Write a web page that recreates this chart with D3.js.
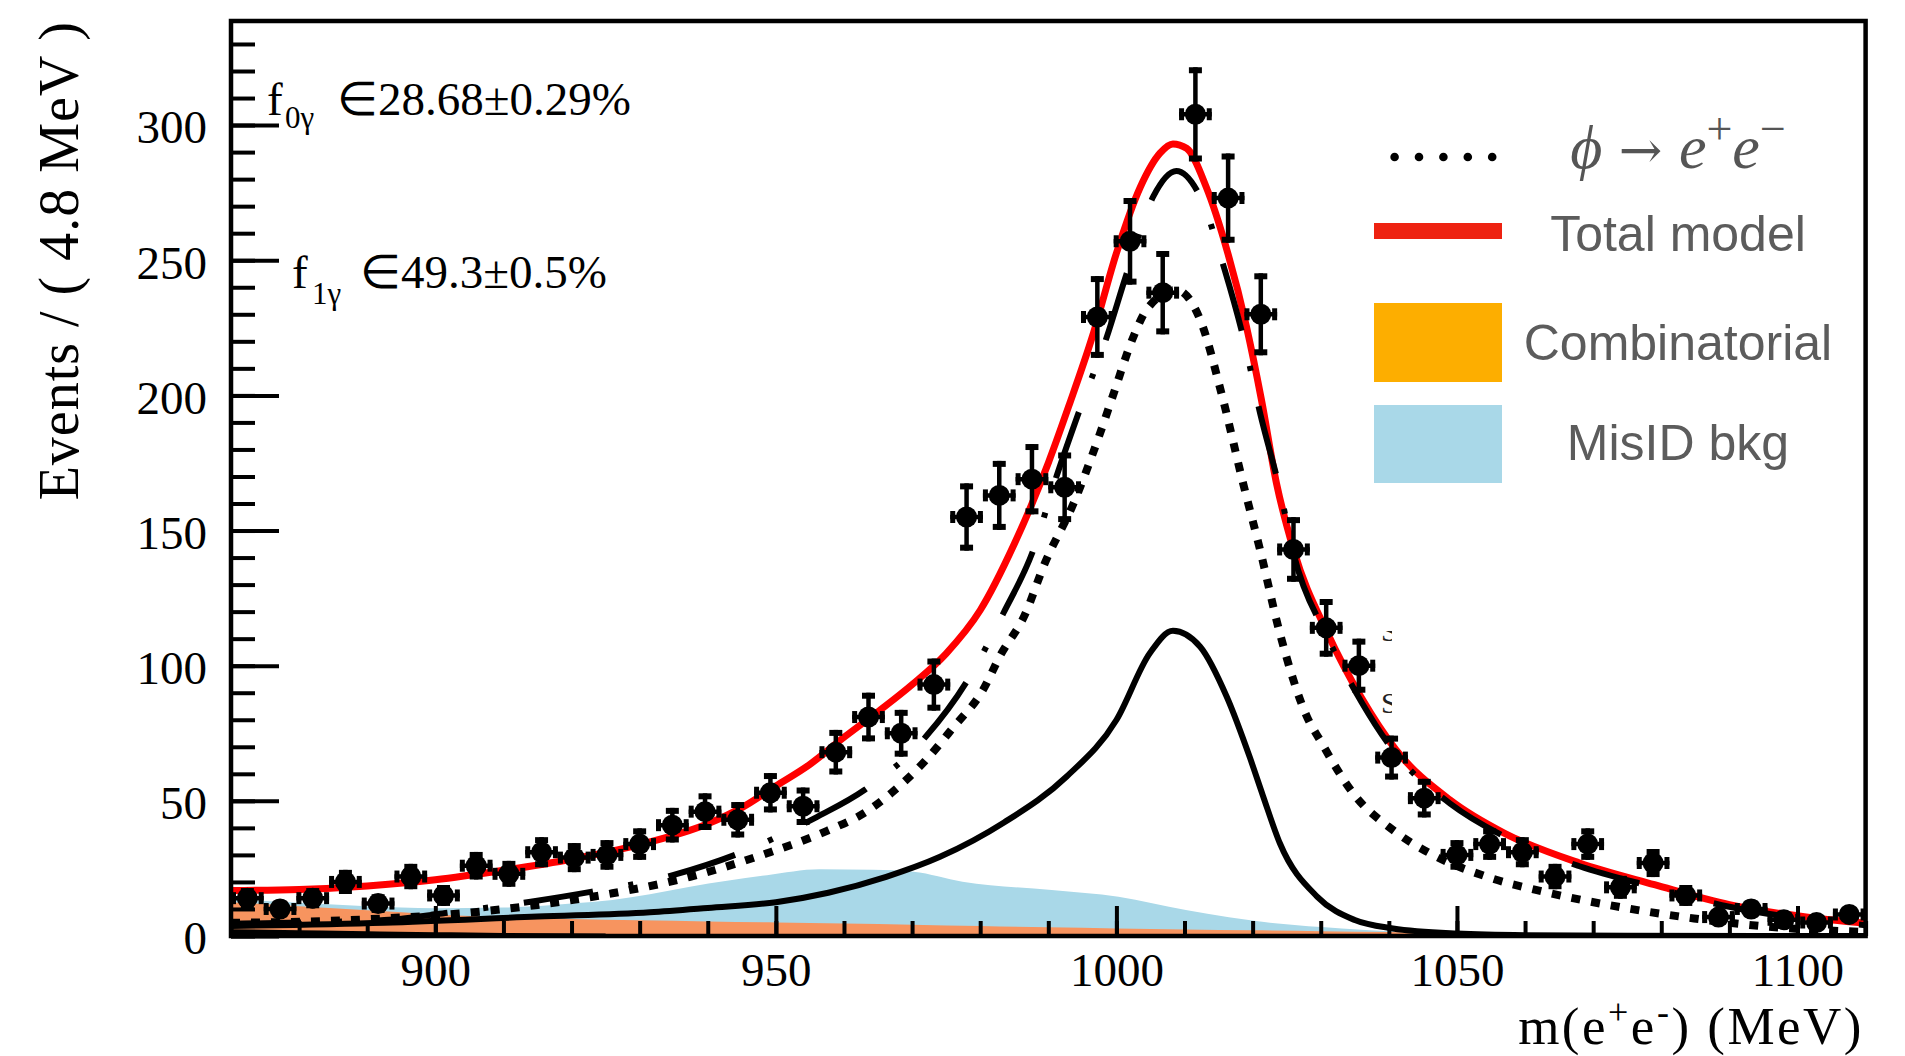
<!DOCTYPE html>
<html>
<head>
<meta charset="utf-8">
<script src="https://cdn.jsdelivr.net/npm/d3@7"></script>
<style>
  html, body { margin: 0; padding: 0; background: #fff; }
  svg { display: block; }
  .serif { font-family: "Liberation Serif", "Times New Roman", serif; }
  .sans { font-family: "Liberation Sans", Arial, sans-serif; }
</style>
</head>
<body>
<svg id="chart" width="1905" height="1056"></svg>
<script>
// ---------- data ----------//

// histogram: 50 bins of 4.8 MeV between 870 and 1110
var binCenters = [872.4, 877.2, 882.0, 886.8, 891.6, 896.4, 901.2, 906.0, 910.8, 915.6,
                  920.4, 925.2, 930.0, 934.8, 939.6, 944.4, 949.2, 954.0, 958.8, 963.6,
                  968.4, 973.2, 978.0, 982.8, 987.6, 992.4, 997.2, 1002.0, 1006.8, 1011.6,
                  1016.4, 1021.2, 1026.0, 1030.8, 1035.6, 1040.4, 1045.2, 1050.0, 1054.8, 1059.6,
                  1064.4, 1069.2, 1074.0, 1078.8, 1083.6, 1088.4, 1093.2, 1098.0, 1102.8, 1107.6];
var counts = [14, 10, 14, 20, 12, 22, 15, 26, 23, 31,
              29, 30, 34, 41, 46, 43, 53, 48, 68, 81,
              75, 93, 155, 163, 169, 166, 229, 257, 238, 304,
              273, 230, 143, 114, 100, 66, 51, 30, 34, 31,
              22, 34, 18, 27, 15, 7, 10, 6, 5, 8];
var halfBin = 2.4;

// fit curves, [mass, events]
var totalModel = [[870,16.8],[880,17.2],[890,18.5],[900,20.8],[910,24.3],[920,28.4],[930,33.8],
  [940,41.5],[945,47.5],[950,55.5],[955,63.5],[960,73.5],[965,83],[970,93],[975,104.5],[980,120.5],
  [985,145],[990,175],[993,196],[996.5,222],[1000,252.6],[1003.5,277],[1006.4,289.6],[1008.3,293],
  [1010.3,291.4],[1013.2,277],[1016.2,254],[1019.1,225.4],[1021.3,198.3],[1023.5,167.5],[1026,143],
  [1031,112],[1036,88],[1041,69],[1049,50.3],[1057,38],[1068,27],[1079,19],[1090,11.6],[1101,7.1],[1110,4.7]];

var signalSum = [[870,4.5],[880,5],[892.5,5.9],[903,9],[914,12.7],[923,16.4],[935,22.6],[944,30],
  [956,44],[963,54],[972,73.7],[978,94],[983.4,119.4],[987.8,142.8],[991.2,170],[994.6,194.6],
  [998.6,221.7],[1001.5,245],[1005.4,273.5],[1008.8,283],[1012.3,273.5],[1015.9,246.4],[1018.6,221.7],
  [1021.1,193.4],[1024,165],[1026,141.5],[1031,110.5],[1036,86.5],[1041,67.5],[1049,49],[1057,36.8],
  [1068,25.8],[1079,18],[1090,10.8],[1101,6.3],[1110,4]];

var phiToEE = [[870,4.9],[881,5.3],[892.5,6.5],[904,8.4],[915,11.5],[926,15.8],[937.4,21.9],
  [948.7,30.6],[957.6,39],[963.3,46],[967,53],[972,65],[976,77],[980.4,91],[983,104],[986.5,118.5],
  [989.5,138],[993.7,160],[997.6,186],[999.5,200],[1002.5,221.7],[1004.4,231.6],[1008.8,239],
  [1012.3,228],[1015.4,201],[1018.6,167.5],[1021.1,142.8],[1024,112],[1028,81],[1030,72],[1035,52],
  [1040.6,39.2],[1046,30.6],[1054.4,21.9],[1062.7,16.4],[1073.7,10.8],[1084.8,6.5],[1095.8,3.4],[1110,1.5]];

var peakComponent = [[870,3.7],[892.5,4.9],[915,7.2],[931.5,8.8],[940,10.4],[950,12.5],[957.7,16],
  [966.2,21.9],[974.1,29.3],[983.5,42],[992.7,59],[1000,79.9],[1004.9,104.6],[1008.3,112.9],
  [1012.3,107],[1016.2,88.5],[1019.6,66],[1021.5,52],[1024,34.3],[1029.5,14.5],[1035,5.9],
  [1040.6,2.8],[1050,0.9],[1060,0.3],[1075,0.1],[1110,0]];

var lowTail = [[870,1.6],[880,1.2],[890,0.8],[900,0.5],[910,0.2],[925,0]];

var misidBkg = [[870,13.5],[880,12.3],[890,11],[900,10.3],[910,10.5],[920,12],[926,13.3],[931.5,15.4],
  [937.4,18.2],[948.7,22.5],[956.4,24.7],[964.3,24.5],[970.2,23.8],[977.4,20.1],[990.5,17],[1000.3,14.5],
  [1010.2,9.6],[1023.3,4.7],[1033.1,2.8],[1040,1.8],[1050,1.1],[1060,0.8],[1080,0.5],[1110,0.4]];

var combinatorial = [[870,12.5],[880,11],[890,9.5],[900,8],[910,7],[920,6.3],[930,5.8],[940,5.4],
  [950,5],[960,4.6],[970,4.2],[980,3.7],[990,3.2],[1000,2.8],[1010,2.4],[1020,2.1],[1030,1.8],
  [1040,1.5],[1050,1.2],[1060,1],[1080,0.8],[1110,0.6]];

var xMajorTicks = [900, 950, 1000, 1050, 1100];
var yMajorTicks = [0, 50, 100, 150, 200, 250, 300];

// ---------- layout ----------//
var W = 1905, H = 1056;
var frame = {left: 231, right: 1865.6, top: 21, bottom: 936};

var x = d3.scaleLinear().domain([870, 1110]).range([frame.left, frame.right]);
var y = d3.scaleLinear().domain([0, 338.5]).range([frame.bottom, frame.top]);

var svg = d3.select("#chart");
svg.append("rect").attr("width", W).attr("height", H).attr("fill", "#fff");

var defs = svg.append("defs");
defs.append("clipPath").attr("id", "plotclip").append("rect")
    .attr("x", frame.left).attr("y", frame.top)
    .attr("width", frame.right - frame.left).attr("height", frame.bottom - frame.top);

var plot = svg.append("g").attr("clip-path", "url(#plotclip)");

var area = d3.area()
    .x(function(d) { return x(d[0]); })
    .y0(y(0))
    .y1(function(d) { return y(d[1]); })
    .curve(d3.curveMonotoneX);

var line = d3.line()
    .x(function(d) { return x(d[0]); })
    .y(function(d) { return y(d[1]); })
    .curve(d3.curveMonotoneX);

// filled backgrounds
plot.append("path").datum(misidBkg).attr("d", area).attr("fill", "#a9d8e8");
plot.append("path").datum(combinatorial).attr("d", area).attr("fill", "#f7945f");

// curves
plot.append("path").datum(lowTail).attr("d", line)
    .attr("fill", "none").attr("stroke", "#000").attr("stroke-width", 5);
plot.append("path").datum(peakComponent).attr("d", line)
    .attr("fill", "none").attr("stroke", "#000").attr("stroke-width", 6);
plot.append("path").datum(phiToEE).attr("d", line)
    .attr("fill", "none").attr("stroke", "#000").attr("stroke-width", 8)
    .attr("stroke-dasharray", "9,11");
plot.append("path").datum(totalModel).attr("d", line)
    .attr("fill", "none").attr("stroke", "#ff0000").attr("stroke-width", 7);
plot.append("path").datum(signalSum).attr("d", line)
    .attr("fill", "none").attr("stroke", "#000").attr("stroke-width", 6)
    .attr("stroke-dasharray", "70,36,5,36");

// data points with errors
var pts = plot.selectAll("g.pt")
    .data(d3.zip(binCenters, counts))
    .join("g")
    .attr("class", "pt")
    .attr("stroke", "#000");

pts.append("line") // x error
    .attr("x1", function(d) { return x(d[0] - halfBin); })
    .attr("x2", function(d) { return x(d[0] + halfBin); })
    .attr("y1", function(d) { return y(d[1]); })
    .attr("y2", function(d) { return y(d[1]); })
    .attr("stroke-width", 4.5);
[-1, 1].forEach(function(s) {
  pts.append("line")
      .attr("x1", function(d) { return x(d[0] + s * halfBin) - s * 2.5; })
      .attr("x2", function(d) { return x(d[0] + s * halfBin) - s * 2.5; })
      .attr("y1", function(d) { return y(d[1]) - 6; })
      .attr("y2", function(d) { return y(d[1]) + 6; })
      .attr("stroke-width", 5);
});
pts.append("line") // y error, sqrt(N)
    .attr("x1", function(d) { return x(d[0]); })
    .attr("x2", function(d) { return x(d[0]); })
    .attr("y1", function(d) { return y(d[1] - Math.sqrt(d[1])); })
    .attr("y2", function(d) { return y(d[1] + Math.sqrt(d[1])); })
    .attr("stroke-width", 4.5);
[-1, 1].forEach(function(s) {
  pts.append("line")
      .attr("x1", function(d) { return x(d[0]) - 6.5; })
      .attr("x2", function(d) { return x(d[0]) + 6.5; })
      .attr("y1", function(d) { return y(d[1] + s * Math.sqrt(d[1])) + s * 3; })
      .attr("y2", function(d) { return y(d[1] + s * Math.sqrt(d[1])) + s * 3; })
      .attr("stroke-width", 6);
});
pts.append("circle")
    .attr("cx", function(d) { return x(d[0]); })
    .attr("cy", function(d) { return y(d[1]); })
    .attr("r", 10.5)
    .attr("fill", "#000")
    .attr("stroke", "none");

// ---------- axes ----------//
function styleAxis(g) {
  g.select(".domain").remove();
  g.selectAll(".tick line").attr("stroke", "#000").attr("stroke-width", 4);
  g.selectAll(".tick text").attr("class", "serif").attr("fill", "#000").style("font-size", "47px");
}

svg.append("g")
    .attr("transform", "translate(" + frame.left + ",0)")
    .call(d3.axisLeft(y).tickValues(d3.range(0, 331, 10)).tickSize(-24).tickFormat(""))
    .call(styleAxis);
svg.append("g")
    .attr("transform", "translate(" + frame.left + ",0)")
    .call(d3.axisLeft(y).tickValues(yMajorTicks).tickSize(-48).tickPadding(24).tickFormat(d3.format("d")))
    .call(styleAxis)
    .selectAll(".tick text").attr("dy", "0.38em");

svg.append("g")
    .attr("transform", "translate(0," + frame.bottom + ")")
    .call(d3.axisBottom(x).tickValues(d3.range(870, 1111, 10)).tickSize(-15).tickFormat(""))
    .call(styleAxis);
svg.append("g")
    .attr("transform", "translate(0," + frame.bottom + ")")
    .call(d3.axisBottom(x).tickValues(xMajorTicks).tickSize(-30).tickPadding(17).tickFormat(d3.format("d")))
    .call(styleAxis);

// frame
svg.append("rect")
    .attr("x", frame.left).attr("y", frame.top)
    .attr("width", frame.right - frame.left).attr("height", frame.bottom - frame.top)
    .attr("fill", "none").attr("stroke", "#000").attr("stroke-width", 4.5);

// axis titles
svg.append("text")
    .attr("class", "serif")
    .attr("transform", "translate(78," + frame.top + ") rotate(-90)")
    .attr("text-anchor", "end")
    .style("font-size", "56px")
    .style("letter-spacing", "1px")
    .text("Events / ( 4.8 MeV )");

var xt = svg.append("text")
    .attr("class", "serif")
    .attr("x", 1864).attr("y", 1044)
    .attr("text-anchor", "end")
    .style("font-size", "53px")
    .style("letter-spacing", "2.5px");
xt.append("tspan").text("m(e");
xt.append("tspan").attr("dy", -20).style("font-size", "36px").text("+");
xt.append("tspan").attr("dy", 20).text("e");
xt.append("tspan").attr("dy", -20).style("font-size", "36px").text("-");
xt.append("tspan").attr("dy", 20).text(") (MeV)");

// fractions
var f0 = svg.append("text").attr("class", "serif").style("font-size", "47px");
f0.append("tspan").attr("x", 267).attr("y", 115).text("f");
f0.append("tspan").attr("x", 285).attr("y", 128).style("font-size", "31px").text("0γ");
f0.append("tspan").attr("x", 337).attr("y", 115).text("∈28.68±0.29%");

var f1 = svg.append("text").attr("class", "serif").style("font-size", "47px");
f1.append("tspan").attr("x", 292).attr("y", 288).text("f");
f1.append("tspan").attr("x", 312).attr("y", 304).style("font-size", "31px").text("1γ");
f1.append("tspan").attr("x", 360).attr("y", 288).text("∈49.3±0.5%");

// stray glyph pieces peeking out near the right tail
defs.append("clipPath").attr("id", "stray1").append("rect")
    .attr("x", 1380).attr("y", 631).attr("width", 12).attr("height", 10);
defs.append("clipPath").attr("id", "stray2").append("rect")
    .attr("x", 1380).attr("y", 690).attr("width", 12).attr("height", 26);
svg.append("text").attr("clip-path", "url(#stray1)")
    .attr("class", "serif").style("font-size", "30px").attr("fill", "#222")
    .attr("x", 1381).attr("y", 641).text("S");
svg.append("text").attr("clip-path", "url(#stray2)")
    .attr("class", "serif").style("font-size", "30px").attr("fill", "#222")
    .attr("x", 1381).attr("y", 713).text("S");

// ---------- legend ----------//
var leg = svg.append("g");
var legendX = 1374, legendW = 128, labelX = 1678;
var dotXs = [0, 1, 2, 3, 4];
leg.selectAll("circle.dot").data(dotXs).join("circle")
    .attr("class", "dot")
    .attr("cx", function(i) { return 1394.6 + i * 24.4; })
    .attr("cy", 157)
    .attr("r", 4.3)
    .attr("fill", "#000");

var phi = leg.append("text")
    .attr("class", "serif")
    .attr("x", labelX).attr("y", 168)
    .attr("text-anchor", "middle")
    .attr("fill", "#555")
    .style("font-size", "62px");
phi.append("tspan").style("font-style", "italic").text("ϕ");
phi.append("tspan").style("font-family", "'DejaVu Serif', serif").style("font-size", "52px").text(" → ");
phi.append("tspan").style("font-style", "italic").text("e");
phi.append("tspan").attr("dy", -24).style("font-size", "46px").text("+");
phi.append("tspan").attr("dy", 24).style("font-style", "italic").text("e");
phi.append("tspan").attr("dy", -24).style("font-size", "46px").text("−");

leg.append("rect").attr("x", legendX).attr("y", 223).attr("width", legendW).attr("height", 16).attr("fill", "#ee2211");
leg.append("rect").attr("x", legendX).attr("y", 303).attr("width", legendW).attr("height", 79).attr("fill", "#fdae00");
leg.append("rect").attr("x", legendX).attr("y", 405).attr("width", legendW).attr("height", 78).attr("fill", "#a9d8e8");

var legendLabels = ["Total model", "Combinatorial", "MisID bkg"];
var legendBaselines = [251, 360, 460];
leg.selectAll("text.lab").data(legendLabels).join("text")
    .attr("class", "lab sans")
    .attr("x", labelX)
    .attr("y", function(d, i) { return legendBaselines[i]; })
    .attr("text-anchor", "middle")
    .attr("fill", "#5c5c5c")
    .style("font-size", "50px")
    .text(function(d) { return d; });
</script>
</body>
</html>
